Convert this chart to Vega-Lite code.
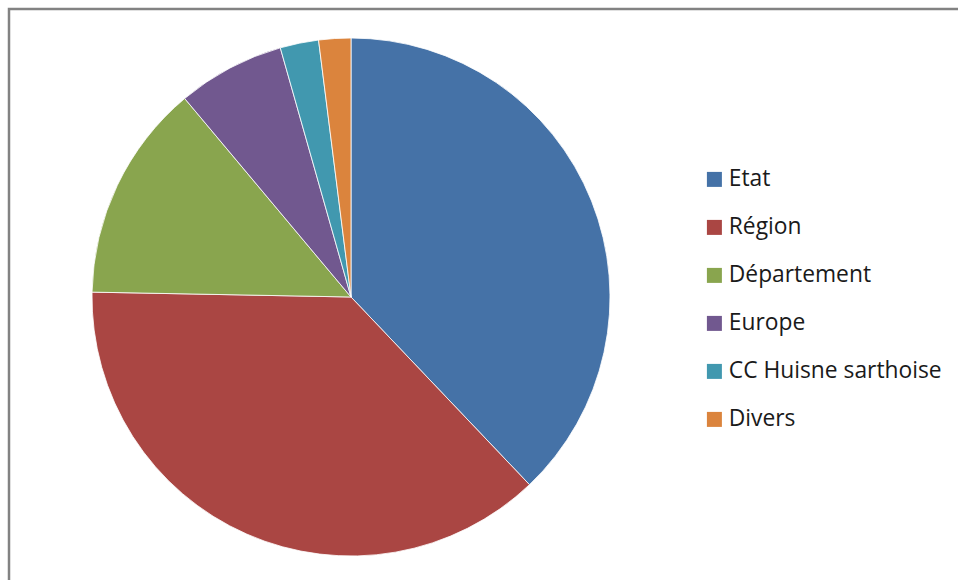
{
  "$schema": "https://vega.github.io/schema/vega-lite/v6.json",
  "width": 960,
  "height": 576,
  "padding": {"left": 9, "top": 9, "right": 0, "bottom": 0},
  "autosize": {"type": "none"},
  "background": "white",
  "view": {"stroke": "#828282", "strokeWidth": 2.5},
  "config": {
    "view": {"stroke": "#828282", "strokeWidth": 2.5},
    "font": "Open Sans"
  },
  "data": {
    "values": [
      {"source": "Etat", "value": 37.9, "order": 1},
      {"source": "Région", "value": 37.4, "order": 2},
      {"source": "Département", "value": 13.6, "order": 3},
      {"source": "Europe", "value": 6.7, "order": 4},
      {"source": "CC Huisne sarthoise", "value": 2.4, "order": 5},
      {"source": "Divers", "value": 2.0, "order": 6}
    ]
  },
  "layer": [
    {
      "mark": {
        "type": "arc",
        "outerRadius": 259,
        "x": {"expr": "width * 0.35625"},
        "stroke": "#ffffff",
        "strokeWidth": 0.8
      },
      "encoding": {
        "theta": {"field": "value", "type": "quantitative", "stack": true},
        "order": {"field": "order", "type": "quantitative"},
        "color": {
          "field": "source",
          "type": "nominal",
          "sort": ["Etat", "Région", "Département", "Europe", "CC Huisne sarthoise", "Divers"],
          "scale": {
            "domain": ["Etat", "Région", "Département", "Europe", "CC Huisne sarthoise", "Divers"],
            "range": ["#4572A7", "#AA4643", "#89A54E", "#71588F", "#4198AF", "#DB843D"]
          },
          "legend": {
            "title": null,
            "orient": "none",
            "legendX": 694,
            "legendY": 159,
            "padding": 0,
            "symbolType": "square",
            "symbolSize": 225,
            "symbolStrokeWidth": 0,
            "labelFontSize": 22.8,
            "labelFont": "Open Sans",
            "labelColor": "#1a1a1a",
            "labelOffset": 3,
            "rowPadding": 24,
            "labelLimit": 400
          }
        }
      }
    }
  ]
}
